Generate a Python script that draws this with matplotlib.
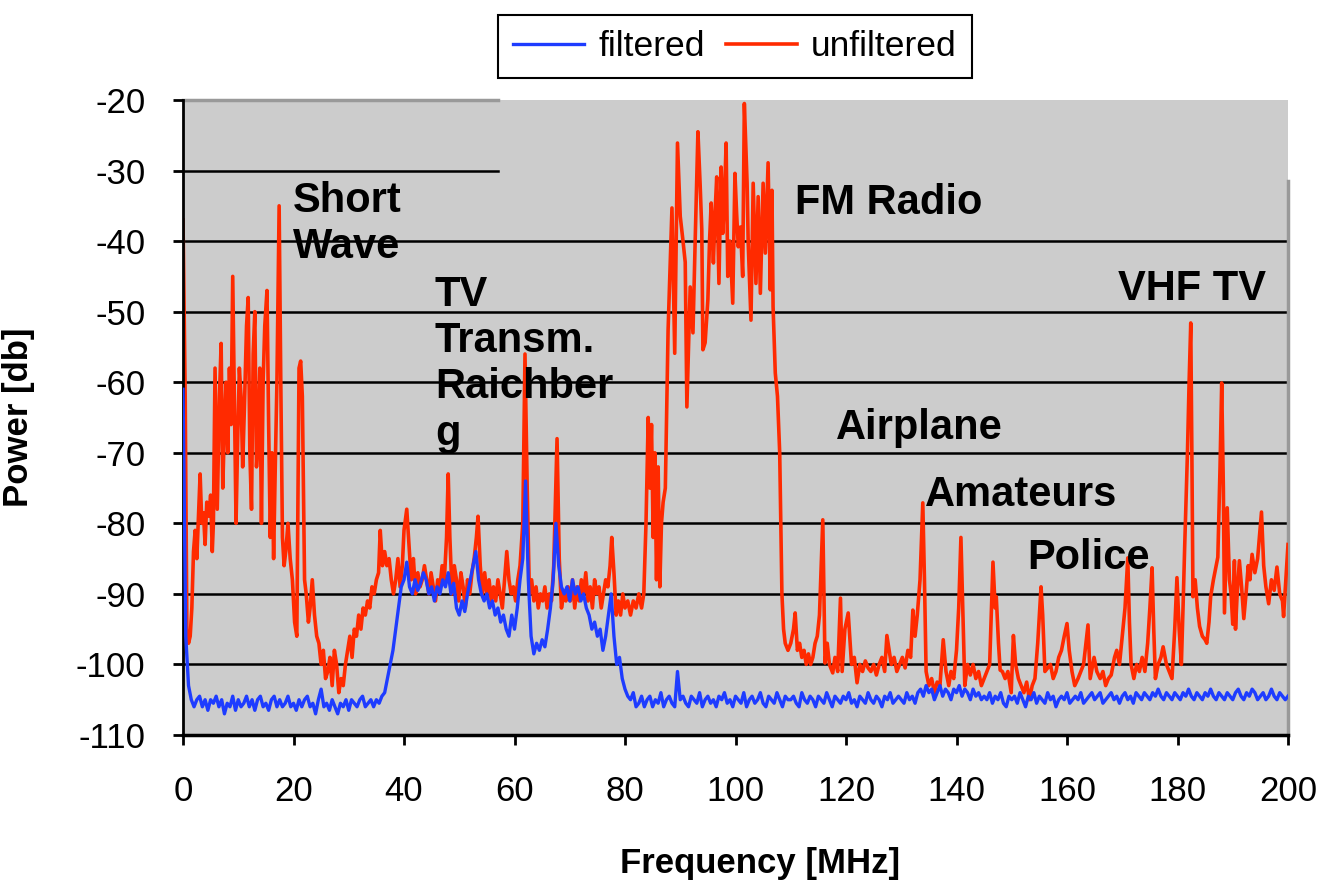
import matplotlib
matplotlib.use("Agg")
import matplotlib.pyplot as plt
import numpy as np

plt.rcParams["font.family"] = ["Liberation Sans", "DejaVu Sans"]
plt.rcParams["axes.unicode_minus"] = False

# filtered spectrum, sampled every 0.5 MHz from 0 to 200 MHz
filtered_db = [
    -61, -96, -103, -105, -106, -105, -104.5, -106, -105, -106.5,
    -105, -105.5, -104.5, -106, -105, -107, -105.5, -106, -104.5, -106.5,
    -105, -106, -105.5, -104.5, -106, -105, -106.5, -105, -104.5, -106,
    -105.5, -106.5, -105, -104.5, -106, -105, -106, -105.5, -104.5, -106,
    -105.5, -106.5, -105, -106, -105, -104.5, -106, -105.5, -107, -105,
    -103.5, -106, -105.5, -106.5, -105, -106, -107, -105.5, -106, -105,
    -106.5, -105, -105.5, -106, -105, -104.5, -106, -105.5, -105, -106,
    -105, -105.5, -104.5, -104, -102, -100, -98, -95, -92, -89,
    -88, -85.5, -89, -90, -88, -89.5, -88.5, -87, -88, -90,
    -89, -91, -89, -90, -88, -89, -87, -90, -88.5, -92,
    -93, -91, -92.5, -90, -88, -86, -84, -88, -90, -91,
    -90, -92, -91, -93, -92, -94, -93, -95, -96, -93,
    -95, -92, -88, -85, -74, -88, -96, -98.5, -97, -98,
    -96.5, -97.5, -95, -92, -88, -80, -86, -89, -90, -89,
    -91, -88, -90, -89, -91, -90, -92, -93, -95, -94,
    -96, -95, -98, -96, -93, -90, -96, -100, -99, -102,
    -103.5, -104.5, -105, -104, -106, -105.5, -104.5, -106, -105, -104.5,
    -106, -105, -105.5, -104, -106, -105, -104.5, -105.5, -106, -101,
    -105, -104.5, -105.5, -106, -104.5, -105, -105.5, -104, -106, -105,
    -104.5, -105.5, -105, -106, -104.5, -105, -104, -105.5, -105, -106,
    -104.5, -105, -105.5, -104, -106, -105, -104.5, -105.5, -105, -104,
    -105.5, -106, -104.5, -105, -105.5, -104, -105, -106, -104.5, -105,
    -105, -104.5, -105.5, -106, -104, -105, -105.5, -104.5, -105, -106,
    -104.5, -105, -105.5, -104, -105, -106, -104.5, -105, -105.5, -104.5,
    -105, -104, -105.5, -105, -106, -104.5, -105, -105.5, -104, -105,
    -105.5, -104.5, -105, -106, -104.5, -105, -104, -105.5, -105, -104.5,
    -105, -105.5, -104, -105, -104.5, -105.5, -104, -103.5, -104.5, -103,
    -104, -103.5, -105, -104, -103, -104.5, -103.5, -104, -105, -103.5,
    -104, -103, -104.5, -103.5, -104, -105, -103.5, -104.5, -104, -105,
    -104.5, -105, -104, -105.5, -104.5, -105, -104, -105.5, -106, -104.5,
    -105, -104.5, -105.5, -104, -105, -106, -104.5, -105, -104, -105.5,
    -104.5, -105, -105.5, -104, -105, -104.5, -106, -105, -104.5, -105,
    -104, -105.5, -105, -104.5, -105, -104, -105.5, -105, -104.5, -104,
    -105, -104.5, -104, -105.5, -105, -104.5, -104, -105, -104.5, -105.5,
    -104.5, -104, -105, -104.5, -105.5, -104, -104.5, -105, -104, -104.5,
    -105, -104, -104.5, -103.5, -104.5, -105, -104, -104.5, -105, -104,
    -104.5, -105, -104, -104.5, -103.5, -104.5, -105, -104, -104.5, -105,
    -104, -104.5, -103.5, -104.5, -105, -104, -104.5, -105, -104, -104.5,
    -105, -104, -103.5, -104.5, -105, -104, -104.5, -103.5, -104, -105,
    -104.5, -104, -105, -104.5, -103.5, -104.5, -105, -104, -104.5, -105,
    -104.5,
]
filtered_mhz = np.arange(len(filtered_db)) * 0.5

# unfiltered spectrum: (MHz, dB) readings
short_wave = [
    (0.0, -37), (0.4, -62), (0.7, -95), (1.0, -97), (1.3, -96), (1.6, -92),
    (1.9, -84), (2.2, -81), (2.5, -85), (2.8, -79), (3.1, -73), (3.4, -80),
    (3.7, -78.5), (4.0, -83), (4.3, -77), (4.7, -79), (5.0, -76), (5.3, -84),
    (5.5, -80), (5.8, -58), (6.2, -78), (6.6, -62), (6.9, -54.5), (7.2, -75),
    (7.5, -66), (7.8, -60), (8.1, -70), (8.4, -58), (8.7, -66), (9.0, -45),
    (9.3, -62), (9.6, -80), (9.9, -68), (10.2, -58), (10.5, -62), (10.8, -72),
    (11.1, -64), (11.5, -52), (11.8, -48), (12.1, -70), (12.4, -78), (12.7, -56),
    (13.0, -50), (13.3, -72), (13.6, -68), (13.9, -58), (14.2, -80), (14.5, -60),
    (14.8, -52), (15.2, -47), (15.5, -66), (15.8, -82), (16.1, -70), (16.4, -85),
    (16.7, -72), (17.0, -60), (17.4, -35), (17.7, -60), (18.0, -82), (18.3, -86),
    (18.6, -84), (19.0, -80), (19.4, -85), (19.8, -88), (20.2, -94), (20.6, -96),
    (21.0, -58), (21.3, -57), (21.6, -62), (22.0, -88), (22.3, -90), (22.7, -94),
    (23.0, -92), (23.4, -88), (23.8, -93), (24.2, -96), (24.6, -97), (25.0, -100),
    (25.4, -98), (25.8, -102), (26.2, -101), (26.6, -99), (27.0, -103), (27.4, -98),
    (27.8, -100), (28.2, -104), (28.6, -102), (29.0, -103), (29.4, -100), (29.8, -98),
    (30.2, -96), (30.6, -99), (31.0, -95), (31.4, -96), (31.8, -93), (32.2, -95),
    (32.6, -92), (33.0, -93), (33.4, -91), (33.8, -92), (34.2, -89), (34.6, -90),
    (35.0, -88), (35.4, -87), (35.7, -81), (36.1, -86), (36.5, -84), (36.9, -86),
    (37.3, -85), (37.7, -88), (38.1, -90), (38.5, -88), (38.9, -85), (39.3, -89),
    (39.7, -86),
]
tv_band = [
    (40.0, -81), (40.5, -78), (40.9, -83), (41.3, -88), (41.7, -85), (42.1, -90),
    (42.5, -87), (42.9, -89), (43.3, -88), (43.7, -86), (44.1, -88), (44.5, -90),
    (44.9, -87), (45.3, -89), (45.7, -91), (46.1, -88), (46.5, -89), (46.9, -86),
    (47.3, -88), (47.7, -82), (48.0, -73), (48.3, -82), (48.7, -90), (49.1, -86),
    (49.5, -88), (49.9, -91), (50.3, -87), (50.7, -89), (51.1, -92), (51.5, -88),
    (51.9, -90), (52.3, -87), (52.7, -85), (53.1, -82), (53.4, -79), (53.8, -86),
    (54.2, -90), (54.6, -87), (55.0, -90), (55.4, -88), (55.8, -91), (56.2, -89),
    (56.6, -91), (57.0, -88), (57.4, -90), (57.8, -92), (58.2, -88), (58.6, -84),
    (59.0, -88), (59.4, -90), (59.8, -89), (60.2, -91), (60.6, -88), (61.0, -86),
    (61.5, -80), (61.9, -56), (62.3, -75), (62.7, -90), (63.1, -88), (63.5, -91),
    (63.9, -89), (64.3, -92), (64.7, -90), (65.1, -91), (65.5, -89), (65.9, -92),
    (66.3, -90), (66.7, -91), (67.1, -86), (67.7, -68), (68.1, -85), (68.5, -92),
    (68.9, -90), (69.3, -91), (69.7, -89), (70.1, -91), (70.5, -88), (70.9, -92),
    (71.3, -89), (71.7, -91), (72.1, -88), (72.5, -90), (72.9, -87), (73.3, -91),
    (73.7, -89), (74.1, -92), (74.5, -88), (74.9, -90), (75.3, -89), (75.7, -92),
    (76.1, -90), (76.5, -88), (76.9, -89), (77.3, -86), (77.6, -82), (78.0, -87),
    (78.4, -93), (78.8, -91), (79.2, -93), (79.6, -90), (80.0, -92), (80.5, -91),
    (81.0, -93), (81.5, -91), (82.0, -92), (82.5, -90), (83.0, -92), (83.4, -90),
]
fm_band = [
    (83.8, -80), (84.2, -65), (84.5, -75), (84.8, -66), (85.1, -82), (85.4, -70),
    (85.7, -88), (86.0, -72), (86.3, -89), (86.6, -80), (86.9, -77), (87.3, -75),
    (87.6, -62), (87.8, -52.6), (88.5, -35.3), (89.0, -55.9), (89.5, -26.1),
    (90.0, -36.5), (90.5, -40), (90.9, -43), (91.2, -63.5), (91.8, -46.5),
    (92.3, -53), (92.7, -40), (93.2, -24.5), (93.6, -32), (93.9, -38.4),
    (94.1, -55.4), (94.5, -54.4), (95.0, -48.3), (95.3, -40), (95.6, -34.6),
    (96.0, -43.1), (96.3, -36), (96.6, -30.9), (97.0, -46), (97.4, -29.5),
    (97.7, -38.9), (98.0, -34), (98.3, -26.1), (98.6, -45), (99.0, -40),
    (99.5, -48.8), (99.9, -30.4), (100.2, -36), (100.5, -40.8), (100.9, -38),
    (101.3, -45), (101.6, -20.5), (102.1, -31.8), (102.3, -40.3), (102.8, -51.2),
    (103.2, -31.8), (103.7, -46), (104.1, -33.7), (104.5, -47.4), (105.0, -31.8),
    (105.4, -41.7), (105.9, -28.9), (106.3, -46.9), (106.6, -32.8), (106.8, -49.3),
    (107.2, -58.7), (107.6, -62), (108.0, -70), (108.4, -90), (108.7, -95),
    (109.0, -97),
]
vhf_band = [
    (109.5, -98), (110.0, -97), (110.5, -95), (110.8, -92.7), (111.2, -98),
    (111.6, -97), (112.0, -99), (112.4, -98), (112.8, -100), (113.2, -98.5),
    (113.6, -100), (114.0, -99), (114.4, -97), (114.8, -96), (115.2, -93),
    (115.8, -79.5), (116.2, -99.8), (116.6, -97), (117.0, -100), (117.6, -101.2),
    (118.0, -99), (118.5, -101), (119.0, -90.6), (119.3, -101), (119.8, -95),
    (120.4, -92.7), (121.0, -100), (121.5, -99), (122.0, -102.6), (122.5, -100),
    (123.0, -101), (123.5, -99.5), (124.0, -100.5), (124.5, -101), (125.0, -100),
    (125.5, -101.5), (126.0, -100), (126.5, -99), (127.0, -101), (127.4, -95.9),
    (127.8, -98), (128.2, -100), (128.7, -99), (129.2, -101), (129.7, -100),
    (130.2, -99), (130.7, -100.5), (131.2, -98), (131.7, -99), (132.1, -92.3),
    (132.5, -96), (132.9, -93), (133.4, -88), (133.9, -77.1), (134.2, -88),
    (134.5, -101), (135.0, -103), (135.5, -102), (136.0, -104), (136.5, -102.5),
    (137.0, -103), (137.6, -96.5), (138.1, -101), (138.6, -103), (139.0, -101),
    (139.5, -102), (140.0, -98), (140.4, -92), (140.8, -82), (141.2, -94),
    (141.5, -103), (142.0, -100), (142.5, -101.5), (143.0, -100), (143.5, -102),
    (144.0, -101), (144.5, -103), (145.0, -102), (145.5, -101), (146.0, -100),
    (146.6, -85.5), (147.0, -92), (147.2, -90.4), (147.6, -97), (147.9, -100.8),
    (148.3, -101), (148.8, -102), (149.3, -101), (149.9, -104), (150.3, -95.9),
    (150.7, -100), (151.2, -102), (151.7, -103), (152.2, -104), (152.7, -102.5),
    (153.2, -105), (153.7, -103), (154.2, -102), (154.7, -97), (155.3, -89),
    (155.6, -93), (156.0, -101), (156.5, -100.5), (157.0, -100), (157.5, -102),
    (158.0, -101), (158.5, -99), (159.0, -98), (159.5, -96), (160.0, -94.2),
    (160.4, -98), (160.9, -101), (161.4, -103), (162.0, -102), (162.5, -101),
    (163.0, -100), (163.8, -94.4), (164.2, -102), (164.9, -99), (165.4, -101),
    (166.0, -102), (166.5, -101), (167.0, -103), (167.5, -102), (168.0, -101.5),
    (168.6, -99), (169.0, -98), (169.5, -100), (170.0, -96), (170.5, -92),
    (171.0, -84.9), (171.3, -94), (171.6, -100), (172.1, -102), (172.6, -100),
    (173.1, -101), (173.6, -99), (174.1, -101), (174.6, -97), (175.0, -92),
    (175.4, -86.3), (175.7, -95), (176.0, -102), (176.5, -100), (177.0, -99),
    (177.4, -97.5), (178.0, -100), (178.5, -101), (179.0, -102), (179.5, -95),
    (179.9, -87.7), (180.3, -95), (180.7, -100), (181.0, -92), (181.3, -83.3),
    (181.8, -70), (182.1, -60), (182.4, -51.6), (182.6, -70), (182.8, -90.4),
    (183.2, -88), (183.6, -92), (184.0, -94.6), (184.5, -96), (185.0, -96.5),
    (185.3, -97), (185.7, -94), (186.0, -90.4), (186.5, -88), (187.0, -86),
    (187.3, -84.8), (187.7, -72), (188.0, -60.1), (188.3, -75), (188.5, -92.7),
    (189.0, -77.8), (189.4, -88), (189.7, -90), (190.0, -94.3), (190.3, -85.3),
    (190.5, -95), (190.8, -90), (191.2, -85.3), (191.6, -89), (192.0, -93.5),
    (192.4, -90), (192.8, -86), (193.1, -88), (193.5, -84.4), (194.0, -87),
    (194.5, -85), (195.2, -78.4), (195.6, -86), (196.0, -89), (196.5, -91.4),
    (197.0, -88), (197.5, -89.5), (198.0, -86.2), (198.5, -90), (199.0, -91),
    (199.2, -93.2), (199.6, -88), (200.0, -83),
]
unfiltered = short_wave + tv_band + fm_band + vhf_band
unfiltered_mhz = [p[0] for p in unfiltered]
unfiltered_db = [p[1] for p in unfiltered]

y_ticks = [-20, -30, -40, -50, -60, -70, -80, -90, -100, -110]
x_ticks = [0, 20, 40, 60, 80, 100, 120, 140, 160, 180, 200]

# band labels: text, left MHz, top dB
bands = [
    ("Short\nWave", 19.9, -31.5),
    ("TV\nTransm.\nRaichber\ng", 45.6, -44.8),
    ("FM Radio", 110.8, -31.8),
    ("Airplane", 118.2, -63.7),
    ("Amateurs", 134.3, -73.1),
    ("Police", 152.8, -82.1),
    ("VHF TV", 169.2, -43.9),
]

BLUE = "#1e3cff"
RED = "#ff2a00"

fig = plt.figure(figsize=(13.25, 8.84), dpi=100)
ax = fig.add_axes([183 / 1325, 1 - 735 / 884, 1105 / 1325, 635 / 884])
ax.set_facecolor("#cccccc")

# gridlines (the top two only reach part way across in the original)
for y in y_ticks[2:-1]:
    ax.axhline(y, color="black", lw=1.8, zorder=1)
ax.axhline(-30, xmin=0, xmax=0.285, color="black", lw=1.8, zorder=1)
ax.axhline(-20, xmin=0, xmax=0.285, color="#999999", lw=2.5, zorder=1, clip_on=False)
ax.axvline(200, ymin=0, ymax=(110 - 31.5) / 90, color="#999999", lw=2.5, zorder=1, clip_on=False)

ax.plot(filtered_mhz, filtered_db, color=BLUE, lw=2.4, zorder=3, label="filtered")
ax.plot(unfiltered_mhz, unfiltered_db, color=RED, lw=2.6, zorder=2, label="unfiltered")

for text, x, y in bands:
    ax.text(x, y, text, fontsize=30, fontweight="bold", ha="left", va="top",
            linespacing=1.2, zorder=5)

ax.set_xlim(0, 200)
ax.set_ylim(-110, -20)
ax.set_xticks(x_ticks)
ax.set_yticks(y_ticks)
ax.tick_params(axis="both", labelsize=25, direction="out", length=7, width=2)
ax.tick_params(axis="y", pad=20)
ax.tick_params(axis="x", pad=22)
for side in ["top", "right"]:
    ax.spines[side].set_visible(False)
ax.spines["left"].set_linewidth(2)
ax.spines["bottom"].set_linewidth(2.5)

ax.set_xlabel("Frequency [MHz]", fontsize=25, fontweight="bold")
ax.xaxis.set_label_coords(0.522, -0.176)
ax.set_ylabel("Power [db]", fontsize=25, fontweight="bold")
ax.yaxis.set_label_coords(-0.134, 0.5)

leg = fig.legend(loc="center", bbox_to_anchor=(735 / 1325, 1 - 46.5 / 884), ncol=2,
                 fontsize=25.5, frameon=True, fancybox=False, handlelength=2.0,
                 handletextpad=0.4, columnspacing=0.6, borderpad=0.42)
leg.get_frame().set_edgecolor("black")
leg.get_frame().set_linewidth(1.5)
leg.get_frame().set_alpha(1)

fig.savefig("out.png", dpi=100)
